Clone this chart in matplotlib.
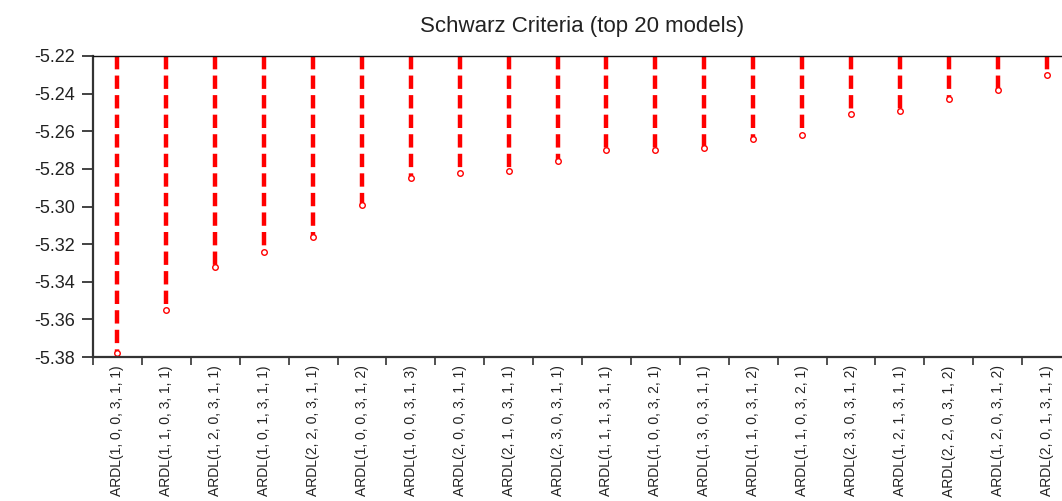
import matplotlib
matplotlib.use("Agg")
import matplotlib.pyplot as plt
import numpy as np

# top 20 ARDL models and their Schwarz criterion
models = [
    "ARDL(1, 0, 0, 3, 1, 1)", "ARDL(1, 1, 0, 3, 1, 1)", "ARDL(1, 2, 0, 3, 1, 1)",
    "ARDL(1, 0, 1, 3, 1, 1)", "ARDL(2, 2, 0, 3, 1, 1)", "ARDL(1, 0, 0, 3, 1, 2)",
    "ARDL(1, 0, 0, 3, 1, 3)", "ARDL(2, 0, 0, 3, 1, 1)", "ARDL(2, 1, 0, 3, 1, 1)",
    "ARDL(2, 3, 0, 3, 1, 1)", "ARDL(1, 1, 1, 3, 1, 1)", "ARDL(1, 0, 0, 3, 2, 1)",
    "ARDL(1, 3, 0, 3, 1, 1)", "ARDL(1, 1, 0, 3, 1, 2)", "ARDL(1, 1, 0, 3, 2, 1)",
    "ARDL(2, 3, 0, 3, 1, 2)", "ARDL(1, 2, 1, 3, 1, 1)", "ARDL(2, 2, 0, 3, 1, 2)",
    "ARDL(1, 2, 0, 3, 1, 2)", "ARDL(2, 0, 1, 3, 1, 1)",
]
schwarz = [
    -5.378, -5.355, -5.332, -5.324, -5.316, -5.299, -5.285, -5.282, -5.281, -5.276,
    -5.270, -5.270, -5.269, -5.264, -5.262, -5.251, -5.249, -5.243, -5.238, -5.230,
]
yticks = [-5.38, -5.36, -5.34, -5.32, -5.30, -5.28, -5.26, -5.24, -5.22]

plt.rcParams['font.family'] = ['Liberation Sans', 'DejaVu Sans']

fig = plt.figure(figsize=(10.62, 5.01), dpi=100)
W, H = 1062, 501
left, right, top, bottom = 93, 1071, 56, 357
ax = fig.add_axes([left / W, 1 - bottom / H, (right - left) / W, (bottom - top) / H])

ymin, ymax = yticks[0], yticks[-1]
x = np.arange(len(models)) + 0.5

ax.vlines(x, ymax, schwarz, colors='#ff0000', linewidth=3.2,
          linestyles=[(0, (3.0, 1.4))])
ax.plot(x, schwarz, linestyle='none', marker='o', markersize=4,
        markerfacecolor='white', markeredgecolor='#ff0000', markeredgewidth=1)

ax.set_xlim(0, len(models))
ax.set_ylim(ymin, ymax)
ax.set_yticks(yticks)
ax.set_yticklabels([f"{v:.2f}" for v in yticks])
ax.tick_params(axis='y', direction='out', length=8, width=1.2, pad=5,
               labelsize=13, colors='#222222')

ax.set_xticks(np.arange(len(models) + 1))
ax.set_xticklabels([])
ax.tick_params(axis='x', which='major', direction='out', length=6, width=1.2,
               colors='#333333')
ax.set_xticks(x, minor=True)
ax.set_xticklabels(models, minor=True, rotation=90, fontsize=10, color='#222222')
ax.tick_params(axis='x', which='minor', length=0, pad=6)

for side in ['left', 'bottom']:
    ax.spines[side].set_linewidth(1.6)
    ax.spines[side].set_color('#333333')
ax.spines['top'].set_linewidth(1.0)
ax.spines['top'].set_color('#111111')
ax.spines['right'].set_visible(False)

ax.set_title("Schwarz Criteria (top 20 models)", fontsize=16, color='#222222', pad=17)

fig.savefig("out.png", dpi=100)
